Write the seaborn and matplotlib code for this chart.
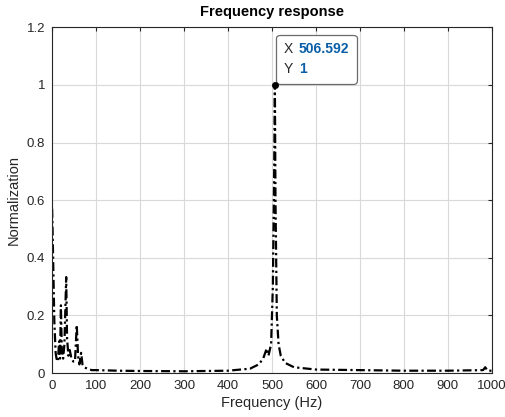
import matplotlib
matplotlib.use("Agg")
import matplotlib.pyplot as plt
from matplotlib.offsetbox import TextArea, HPacker, VPacker, AnnotationBbox
import seaborn as sns
import pandas as pd

freq = [0, 2, 5, 8, 10, 13, 16, 18, 20, 22, 25, 28, 32, 34, 37, 40, 44, 48, 52, 56, 59, 62,
        66, 69, 73, 80, 90, 100, 150, 200, 300, 400, 450, 470, 480, 488, 492, 498, 502, 505,
        506.592, 508, 511, 515, 520, 530, 550, 600, 700, 800, 900, 980, 985, 990, 1000]
amp = [0.57, 0.42, 0.18, 0.07, 0.05, 0.04, 0.11, 0.05, 0.235, 0.08, 0.05, 0.10, 0.333, 0.12, 0.06,
       0.08, 0.05, 0.04, 0.04, 0.167, 0.06, 0.03, 0.07, 0.03, 0.02, 0.015, 0.01, 0.01, 0.008,
       0.007, 0.006, 0.008, 0.015, 0.03, 0.05, 0.085, 0.06, 0.10, 0.30, 0.70, 1.0, 0.60, 0.20,
       0.10, 0.06, 0.035, 0.02, 0.012, 0.010, 0.008, 0.008, 0.010, 0.02, 0.008, 0.008]
xticks = list(range(0, 1001, 100))
yticks = [0, 0.2, 0.4, 0.6, 0.8, 1.0, 1.2]
ytick_labels = ["0", "0.2", "0.4", "0.6", "0.8", "1", "1.2"]
tip_x, tip_y = 506.592, 1
tip_xtext, tip_ytext = "506.592", "1"

df = pd.DataFrame({"Frequency": freq, "Amplitude": amp})

sns.set_style("white")
plt.rcParams['font.family'] = ['Liberation Sans', 'DejaVu Sans']

fig = plt.figure(figsize=(5.06, 4.17), dpi=100)
ax = fig.add_axes([0.103, 0.1055, 0.869, 0.829])
sns.lineplot(data=df, x="Frequency", y="Amplitude", ax=ax, color="black",
             linestyle=(0, (4, 1.5, 1, 1.5)), linewidth=1.6, estimator=None, sort=False)

ax.set_xlim(0, 1000)
ax.set_ylim(0, 1.2)
ax.set_xticks(xticks)
ax.set_yticks(yticks)
ax.set_yticklabels(ytick_labels)
ax.grid(True, color="#d9d9d9", linewidth=0.8)
ax.set_axisbelow(True)
for s in ax.spines.values():
    s.set_color("#262626")
    s.set_linewidth(0.8)
ax.tick_params(direction="in", length=3, colors="#262626", labelsize=9.5, top=True, right=True,
               labeltop=False, labelright=False, pad=5)
ax.set_xlabel("Frequency (Hz)", fontsize=10.5, color="#262626", labelpad=3)
ax.set_ylabel("Normalization", fontsize=10.5, color="#262626", labelpad=4)
ax.set_title("Frequency response", fontsize=10.5, fontweight="bold", pad=8, color="black")

fs = 10
lab_props = dict(fontsize=fs, color="#262626")
val_props = dict(fontsize=fs, color="#0a5fa8", fontweight="bold")
col_lab = VPacker(children=[TextArea("X", textprops=lab_props), TextArea("Y", textprops=lab_props)],
                  align="left", pad=0, sep=4)
col_val = VPacker(children=[TextArea(tip_xtext, textprops=val_props), TextArea(tip_ytext, textprops=val_props)],
                  align="left", pad=0, sep=4)
packed = HPacker(children=[col_lab, col_val], align="top", pad=0, sep=4)
ab = AnnotationBbox(packed, (tip_x, tip_y), xybox=(6.5, 6.5), xycoords="data",
                    boxcoords="offset points", box_alignment=(0, 0), frameon=True, pad=0.55,
                    bboxprops=dict(boxstyle="round,pad=0.55,rounding_size=0.25", fc="white",
                                   ec="#6b6b6b", lw=0.9), zorder=6)
ax.add_artist(ab)
ax.plot([tip_x], [tip_y], marker="o", color="black", markersize=4, zorder=8)

fig.savefig("out.png", dpi=100)
